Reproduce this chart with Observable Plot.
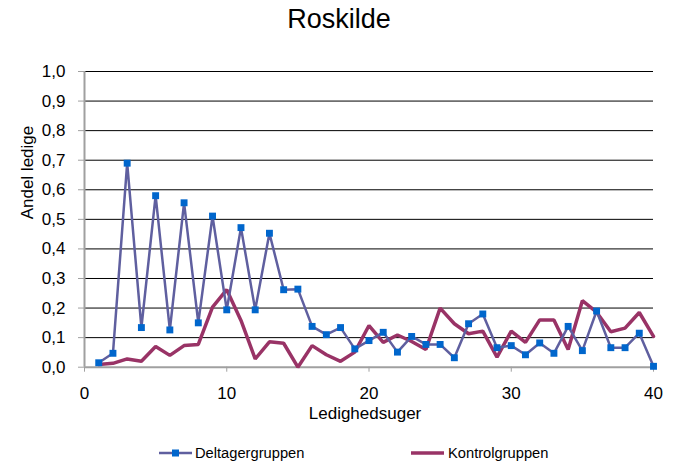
<!DOCTYPE html>
<html>
<head>
<meta charset="utf-8">
<script src="https://cdn.jsdelivr.net/npm/d3@7"></script>
<script src="https://cdn.jsdelivr.net/npm/@observablehq/plot@0.6"></script>
<style>
  html, body { margin: 0; padding: 0; background: #fff; }
  body { width: 678px; height: 466px; overflow: hidden; font-family: "Liberation Sans", Arial, sans-serif; }
  #title { height: 50px; box-sizing: border-box; padding-top: 4px; text-align: center; font-size: 27px; color: #000; }
  #legend { position: relative; height: 41px; }
</style>
</head>
<body>
<div id="title">Roskilde</div>
<div id="chart"></div>
<div id="legend"></div>
<script>
const weeks = d3.range(1, 41);
const deltager = [0.015,0.047,0.69,0.134,0.58,0.126,0.556,0.15,0.511,0.194,
                  0.472,0.194,0.453,0.262,0.264,0.138,0.11,0.134,0.062,0.09,
                  0.118,0.051,0.104,0.077,0.077,0.032,0.147,0.18,0.066,0.073,
                  0.042,0.082,0.047,0.138,0.056,0.19,0.066,0.066,0.115,0.003];
const kontrol = [0.009,0.013,0.028,0.02,0.07,0.04,0.073,0.077,0.203,0.262,
                 0.158,0.028,0.086,0.081,0.0,0.073,0.042,0.02,0.051,0.141,
                 0.084,0.109,0.087,0.06,0.2,0.147,0.113,0.122,0.034,0.122,
                 0.084,0.16,0.16,0.06,0.225,0.186,0.12,0.132,0.185,0.104];
const seriesNames = ["Deltagergruppen", "Kontrolgruppen"];
const xTicks = [0, 10, 20, 30, 40];
const yTicks = d3.range(0, 11).map(i => i / 10);
const yGrid = yTicks.slice(1);
const xLabel = "Ledighedsuger";
const yLabel = "Andel ledige";

const dData = weeks.map((w, i) => ({week: w, value: deltager[i]}));
const kData = weeks.map((w, i) => ({week: w, value: kontrol[i]}));

const colD = "#5f5f9f", colMarker = "#0066cc", colK = "#993366";
const fmt = d => d.toFixed(1).replace(".", ",");

const plot = Plot.plot({
  width: 678,
  height: 375,
  marginLeft: 84,
  marginRight: 25,
  marginTop: 21,
  marginBottom: 58.3,
  style: {fontFamily: "Liberation Sans, Arial, sans-serif", fontSize: "17px", color: "#000", background: "#fff"},
  x: {domain: [0, 40], ticks: xTicks, label: null},
  y: {domain: [0, 1], ticks: yTicks, label: null},
  marks: [
    Plot.gridY(yGrid, {stroke: "#000", strokeOpacity: 1, strokeWidth: 1}),
    Plot.ruleY([0], {stroke: "#a0a0a0", strokeWidth: 2}),
    Plot.ruleX([0], {stroke: "#a0a0a0", strokeWidth: 2}),
    Plot.axisY({ticks: yTicks, tickFormat: fmt, tickSize: 6, tickPadding: 13, stroke: "#a0a0a0", fontSize: 17, label: null}),
    Plot.axisX({ticks: xTicks, tickFormat: d => String(d), tickSize: 5, tickPadding: 15, stroke: "#a0a0a0", fontSize: 17, label: null}),
    Plot.line(kData, {x: "week", y: "value", stroke: colK, strokeWidth: 3.5, strokeLinejoin: "miter"}),
    Plot.line(dData, {x: "week", y: "value", stroke: colD, strokeWidth: 2.5}),
    Plot.dot(dData, {x: "week", y: "value", symbol: "square", r: 3.9, fill: colMarker, stroke: "none"}),
    Plot.text([xLabel], {frameAnchor: "bottom", dy: 52, dx: -4, fontSize: 17, fill: "#000"}),
    Plot.text([yLabel], {frameAnchor: "left", dx: -57, rotate: -90, fontSize: 17, fill: "#000"})
  ]
});
document.getElementById("chart").appendChild(plot);

// Legend
const lg = d3.select("#legend").append("svg").attr("width", 678).attr("height", 41);
const cy = 28;
const items = [
  {name: seriesNames[0], x0: 159, x1: 192, color: colD, w: 2.5, marker: true, tx: 195},
  {name: seriesNames[1], x0: 411, x1: 444, color: colK, w: 3.5, marker: false, tx: 448}
];
items.forEach(it => {
  lg.append("line").attr("x1", it.x0).attr("x2", it.x1).attr("y1", cy).attr("y2", cy)
    .attr("stroke", it.color).attr("stroke-width", it.w);
  if (it.marker) {
    const mx = (it.x0 + it.x1) / 2;
    lg.append("rect").attr("x", mx - 3.5).attr("y", cy - 3.5).attr("width", 7).attr("height", 7).attr("fill", colMarker);
  }
  lg.append("text").attr("x", it.tx).attr("y", cy).attr("dy", "0.35em")
    .attr("font-family", "Liberation Sans, Arial, sans-serif").attr("font-size", 14.7).attr("fill", "#000")
    .text(it.name);
});
</script>
</body>
</html>
